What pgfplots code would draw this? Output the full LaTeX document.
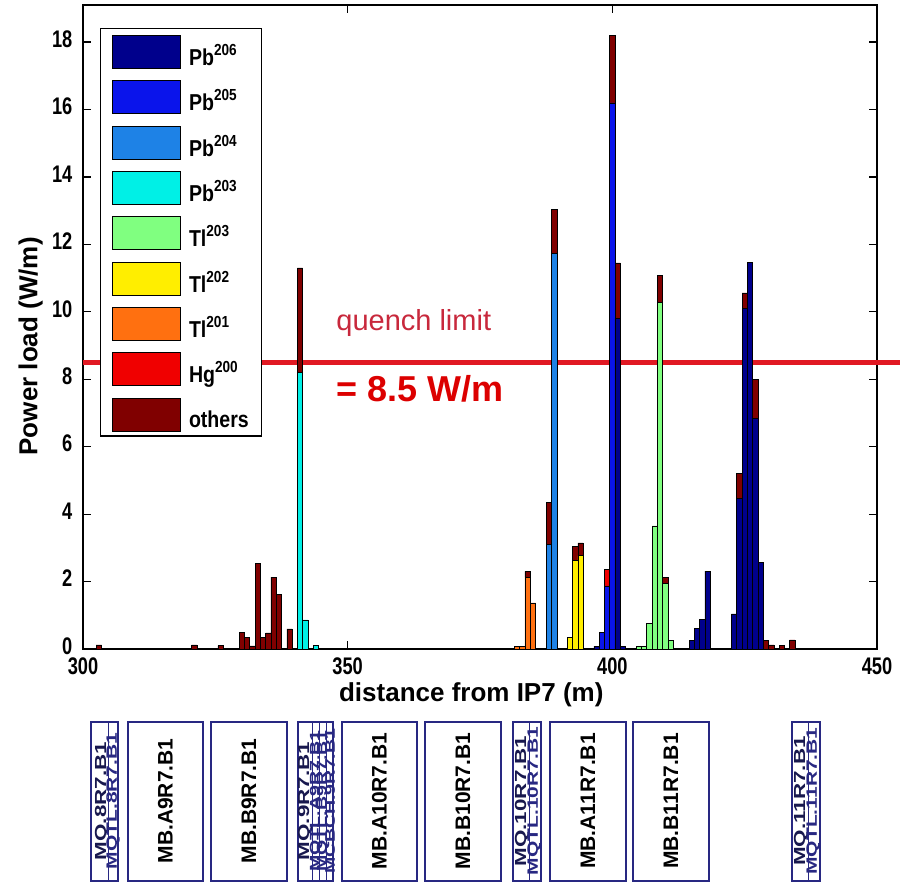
\documentclass[border=0pt]{standalone}
\usepackage{fontspec}
\setmainfont{Liberation Sans}
\newfontfamily\tickf[FakeStretch=0.76]{Liberation Sans}
\newfontfamily\legf[FakeStretch=0.85]{Liberation Sans}
\newfontfamily\mqf[FakeStretch=1.4]{Liberation Sans}
\usepackage{pgfplots}
\usepackage{pgfplotstable}
\pgfplotsset{compat=1.18}

\definecolor{cA}{RGB}{0,0,140}
\definecolor{cB}{RGB}{10,20,235}
\definecolor{cC}{RGB}{30,130,230}
\definecolor{cD}{RGB}{0,240,230}
\definecolor{cE}{RGB}{128,255,128}
\definecolor{cF}{RGB}{255,238,0}
\definecolor{cG}{RGB}{255,112,16}
\definecolor{cH}{RGB}{240,0,0}
\definecolor{cI}{RGB}{128,0,0}
\definecolor{qline}{RGB}{225,25,35}
\definecolor{qtxt}{RGB}{200,40,60}
\definecolor{qnum}{RGB}{220,0,0}
\definecolor{boxc}{RGB}{40,40,130}

\pgfplotsset{sw/.style={fill=#1, draw=black, line width=0.5pt,
  legend image code/.code={\draw[fill=#1,draw=black,line width=0.9pt] (0pt,-3pt) rectangle (68pt,30pt); \path[draw=none,fill=none] (0pt,-7pt) rectangle (75pt,36pt);}}}

\newcommand{\sups}[1]{\raisebox{10pt}{\fontsize{16}{16}\selectfont\bfseries #1}}

\pgfplotstableread{
x p206 p205 p204 p203 t203 t202 t201 h200 oth
303 0 0 0 0 0 0 0 0 0.12
321 0 0 0 0 0 0 0 0 0.12
326 0 0 0 0 0 0 0 0 0.10
330 0 0 0 0 0 0 0 0 0.50
331 0 0 0 0 0 0 0 0 0.34
332 0 0 0 0 0 0 0 0 0.09
333 0 0 0 0 0 0 0 0 2.53
334 0 0 0 0 0 0 0 0 0.34
335 0 0 0 0 0 0 0 0 0.48
336 0 0 0 0 0 0 0 0 2.13
337 0 0 0 0 0 0 0 0 1.62
339 0 0 0 0 0 0 0 0 0.60
341 0 0 0 8.2 0 0 0 0 3.1
342 0 0 0 0.86 0 0 0 0 0
344 0 0 0 0.1 0 0 0 0 0
382 0 0 0 0 0 0 0.08 0 0
383 0 0 0 0 0 0 0.08 0 0
384 0 0 0 0 0 0 2.13 0 0.17
385 0 0 0 0 0 0 1.37 0 0
388 0 0 3.1 0 0 0 0 0 1.25
389 0 0 11.73 0 0 0 0 0 1.3
392 0 0 0 0 0 0.35 0 0 0
393 0 0 0 0 0 2.63 0 0 0.42
394 0 0 0 0 0 2.77 0 0 0.38
397 0.08 0 0 0 0 0 0 0 0
398 0 0.5 0 0 0 0 0 0 0
399 0 1.87 0 0 0 0 0 0.5 0
400 0 16.2 0 0 0 0 0 0 2.0
401 9.8 0 0 0 0 0 0 0 1.65
402 0.08 0 0 0 0 0 0 0 0
405 0 0 0 0 0.08 0 0 0 0
406 0 0 0 0 0.08 0 0 0 0
407 0 0 0 0 0.75 0 0 0 0
408 0 0 0 0 3.65 0 0 0 0
409 0 0 0 0 10.27 0 0 0 0.8
410 0 0 0 0 1.95 0 0 0 0.18
411 0 0 0 0 0.25 0 0 0 0
415 0.26 0 0 0 0 0 0 0 0
416 0.62 0 0 0 0 0 0 0 0
417 0.87 0 0 0 0 0 0 0 0
418 2.31 0 0 0 0 0 0 0 0
423 1.04 0 0 0 0 0 0 0 0
424 4.46 0 0 0 0 0 0 0 0.74
425 10.1 0 0 0 0 0 0 0 0.46
426 11.46 0 0 0 0 0 0 0 0
427 6.83 0 0 0 0 0 0 0 1.16
428 2.56 0 0 0 0 0 0 0 0
429 0 0 0 0 0 0 0 0 0.26
430 0 0 0 0 0 0 0 0 0.12
432 0 0 0 0 0 0 0 0 0.10
434 0 0 0 0 0 0 0 0 0.27
}\data

\begin{document}
\begin{tikzpicture}
\useasboundingbox (-83pt,-241pt) rectangle (817pt,649pt);
\begin{axis}[
  at={(0pt,0pt)}, anchor=south west,
  scale only axis, width=794pt, height=644pt,
  xmin=300, xmax=450, ymin=0, ymax=19.1,
  xtick={300,350,400,450}, ytick={0,2,...,18},
  tick align=inside, tick pos=both,
  major tick length=8pt,
  axis line style={line width=1.2pt},
  every tick/.style={black, line width=1.2pt},
  /pgf/number format/assume math mode=true,
  ticklabel style={font=\tickf\bfseries\fontsize{24}{24}\selectfont, inner sep=1.5pt},
  yticklabel style={xshift=-9pt, yshift=3pt},
  xticklabel style={yshift=-7.5pt},
  xlabel={distance from IP7 (m)},
  ylabel={Power load (W/m)},
  label style={font=\bfseries\fontsize{26}{28}\selectfont},
  xlabel style={at={(axis description cs:0.489,-0.071)}, anchor=center},
  ylabel style={at={(axis description cs:-0.066,0.47)}, anchor=center},
  ybar stacked, bar width=1,
  clip=false,
  legend style={at={(0.0214,0.9643)}, anchor=north west, draw=black,
    line width=1.2pt, fill=white, inner xsep=11pt, inner ysep=1pt,
    row sep=2.3pt, font=\legf\bfseries\fontsize{23}{23}\selectfont,
    nodes={inner sep=2pt}, cells={anchor=base west}},
]
\addplot[sw=cA] table[x=x,y=p206]{\data};
\addlegendentry{Pb\sups{206}}
\addplot[sw=cB] table[x=x,y=p205]{\data};
\addlegendentry{Pb\sups{205}}
\addplot[sw=cC] table[x=x,y=p204]{\data};
\addlegendentry{Pb\sups{204}}
\addplot[sw=cD] table[x=x,y=p203]{\data};
\addlegendentry{Pb\sups{203}}
\addplot[sw=cE] table[x=x,y=t203]{\data};
\addlegendentry{Tl\sups{203}}
\addplot[sw=cF] table[x=x,y=t202]{\data};
\addlegendentry{Tl\sups{202}}
\addplot[sw=cG] table[x=x,y=t201]{\data};
\addlegendentry{Tl\sups{201}}
\addplot[sw=cH] table[x=x,y=h200]{\data};
\addlegendentry{Hg\sups{200}}
\addplot[sw=cI] table[x=x,y=oth]{\data};
\addlegendentry{others}
\draw[line width=5pt, qline] (axis cs:300,8.5) -- (axis cs:454.5,8.5);
\node[anchor=base west, text=qtxt, font=\fontsize{29}{30}\selectfont] at (axis cs:347.2,9.46) {quench limit};
\node[anchor=base west, text=qnum, font=\bfseries\fontsize{36}{38}\selectfont] at (axis cs:347.2,7.33) {= 8.5 W/m};
\end{axis}
% element layout boxes
\begin{scope}[line width=1.2pt]
\foreach \a/\b/\t in {45/120/MB.A9R7.B1,128/204/MB.B9R7.B1,259/334/MB.A10R7.B1,342/418/MB.B10R7.B1,467/543/MB.A11R7.B1,550/626/MB.B11R7.B1}{
  \draw[boxc] (\a pt,-73pt) rectangle (\b pt,-232pt);
  \pgfmathsetmacro{\c}{(\a+\b)/2}
  \node[rotate=90, font=\bfseries\fontsize{21}{21}\selectfont] at (\c pt,-152pt) {\t};
}
% MQ 8
\draw[boxc] (8pt,-73pt) rectangle (35pt,-232pt);
\draw[boxc, line width=0.8pt] (25pt,-73pt) rectangle (35pt,-232pt);
\node[rotate=90, text=boxc!60!black, font=\mqf\bfseries\fontsize{16}{16}\selectfont] at (19pt,-152pt) {MQ.8R7.B1};
\node[rotate=90, text=boxc, font=\mqf\bfseries\fontsize{15}{15}\selectfont] at (30pt,-152pt) {MQTL.8R7.B1};
% MQ 9
\draw[boxc] (215pt,-73pt) rectangle (250pt,-232pt);
\draw[boxc, line width=0.8pt] (229pt,-73pt) rectangle (236pt,-232pt);
\draw[boxc, line width=0.8pt] (236pt,-73pt) rectangle (243pt,-232pt);
\draw[boxc, line width=0.8pt] (243pt,-73pt) rectangle (250pt,-232pt);
\node[rotate=90, text=boxc!60!black, font=\mqf\bfseries\fontsize{16}{16}\selectfont] at (222pt,-152pt) {MQ.9R7.B1};
\node[rotate=90, text=boxc, font=\mqf\bfseries\fontsize{14}{14}\selectfont] at (233pt,-152pt) {MQTL.A9R7.B1};
\node[rotate=90, text=boxc, font=\mqf\bfseries\fontsize{14}{14}\selectfont] at (240pt,-152pt) {MQTL.B9R7.B1};
\node[rotate=90, text=boxc, font=\mqf\bfseries\fontsize{14}{14}\selectfont] at (247pt,-152pt) {MCBCH.9R7.B1};
% MQ 10
\draw[boxc] (430pt,-73pt) rectangle (458pt,-232pt);
\draw[boxc, line width=0.8pt] (446pt,-73pt) rectangle (458pt,-232pt);
\node[rotate=90, text=boxc!60!black, font=\mqf\bfseries\fontsize{16}{16}\selectfont] at (439pt,-152pt) {MQ.10R7.B1};
\node[rotate=90, text=boxc, font=\mqf\bfseries\fontsize{15}{15}\selectfont] at (451pt,-152pt) {MQTL.10R7.B1};
% MQ 11
\draw[boxc] (709pt,-73pt) rectangle (737pt,-232pt);
\draw[boxc, line width=0.8pt] (725pt,-73pt) rectangle (737pt,-232pt);
\node[rotate=90, text=boxc!60!black, font=\mqf\bfseries\fontsize{16}{16}\selectfont] at (718pt,-152pt) {MQ.11R7.B1};
\node[rotate=90, text=boxc, font=\mqf\bfseries\fontsize{15}{15}\selectfont] at (730pt,-152pt) {MQTL.11R7.B1};
\end{scope}
\end{tikzpicture}
\end{document}
